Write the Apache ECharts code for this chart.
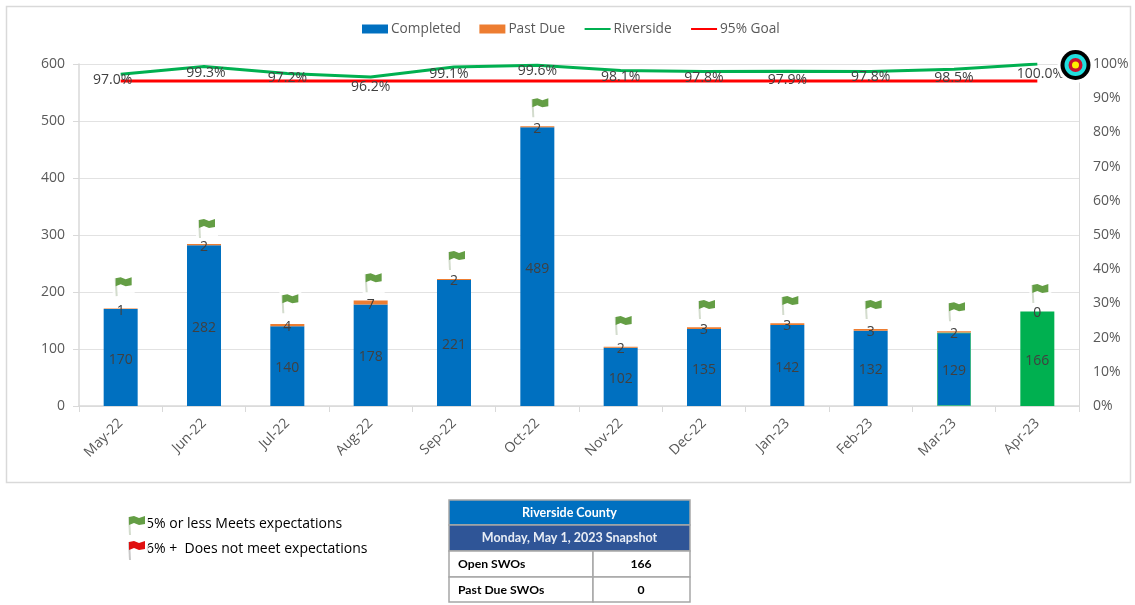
<!DOCTYPE html>
<html><head><meta charset="utf-8">
<style>html,body{margin:0;padding:0;background:#fff}#c{width:1135px;height:605px}</style>
<script src="https://cdn.jsdelivr.net/npm/echarts@6/dist/echarts.min.js"></script>
</head><body><div id="c"></div>
<script>
const categories = ['May-22','Jun-22','Jul-22','Aug-22','Sep-22','Oct-22','Nov-22','Dec-22','Jan-23','Feb-23','Mar-23','Apr-23'];
const completed = [170,282,140,178,221,489,102,135,142,132,129,166];
const pastDue = [1,2,4,7,2,2,2,3,3,3,2,0];
const riverside = [0.970,0.993,0.972,0.962,0.991,0.996,0.981,0.978,0.979,0.978,0.985,1.000];
const goal = [0.95,0.95,0.95,0.95,0.95,0.95,0.95,0.95,0.95,0.95,0.95,0.95];
const flagLevels = [226,328,196,233,272,540,158,186,193,186,182,214];
const rateLabelDx = [-8,2,0,0,-5,0,0,0,0,0,0,3];
const rateLabelDy = [-1,0,-3,3,0,-1,-0.5,-0.5,2,-2,2,3];
const leftTicks = {min:0,max:600,interval:100};
const rightTicks = {min:0,max:1,interval:0.1};

const FONT = '"Open Sans"';
const TXT = '#595959', LBL = '#404040', GRID = '#e2e2e2', AX = '#d9d9d9';
const FLAG_GREEN = '#649e45', FLAG_RED = '#e00f0f', POLE = '#d3dccd';

function flagShapes(x, y, color, pole){
  return [
    {type:'rect', shape:{x:x-3,y:y-3,width:22,height:25}, style:{fill:'rgba(255,255,255,0.85)'}},
    {type:'line', shape:{x1:x,y1:y+1,x2:x+1,y2:y+19}, style:{stroke:pole,lineWidth:2}},
    {type:'polygon', shape:{points:[[x,y+1],[x+5,y],[x+10,y+2],[x+16,y],[x+16,y+8],[x+10,y+9],[x+5,y+7],[x,y+9]]}, style:{fill:color}}
  ];
}
const chart = echarts.init(document.getElementById('c'), null, {renderer:'canvas'});
const T = (x,y,text,o={}) => ({type:'text',x,y,z:20,style:Object.assign({text,fill:'#000',font:'14px '+FONT,verticalAlign:'middle'},o)});
const tblFont = 'bold 12.5px Lato', bodyFont = 'bold 12.2px Lato';
const R = (x,y,w,h,fill) => ({type:'rect',z:15,shape:{x,y,width:w,height:h},style:{fill,stroke:'#a6a6a6',lineWidth:1.5}});
const hideDot = {color:'transparent',borderWidth:0};
chart.setOption({
  animation:false,
  backgroundColor:'#fff',
  textStyle:{fontFamily:FONT},
  legend:{top:22,left:362,padding:0,itemWidth:26,itemHeight:9,itemGap:18.4,
    data:[
      {name:'Completed',icon:'rect',itemStyle:{borderWidth:0}},
      {name:'Past Due',icon:'rect',itemStyle:{borderWidth:0}},
      {name:'Riverside',itemStyle:hideDot},
      {name:'95% Goal',itemStyle:hideDot}
    ],
    textStyle:{color:TXT,fontSize:13.7,fontFamily:FONT,padding:[1,0,0,-2]}},
  grid:{left:79,right:56,top:64,bottom:199},
  xAxis:{type:'category',data:categories,
    axisLine:{lineStyle:{color:AX,width:1.5}},axisTick:{show:true,alignWithLabel:false,length:6,lineStyle:{color:AX}},
    axisLabel:{rotate:45,color:TXT,fontSize:14,margin:15,fontFamily:FONT,interval:0}},
  yAxis:[
    Object.assign({type:'value',position:'left',
      axisLine:{show:true,lineStyle:{color:AX,width:1.5}},axisTick:{show:true,length:6,lineStyle:{color:AX}},
      axisLabel:{color:TXT,fontSize:14,margin:14,fontFamily:FONT,padding:[4,0,0,0]},
      splitLine:{lineStyle:{color:GRID,width:1}}},leftTicks),
    Object.assign({type:'value',position:'right',
      axisLine:{show:true,lineStyle:{color:AX,width:1}},axisTick:{show:false},
      axisLabel:{color:TXT,fontSize:14,margin:14,fontFamily:FONT,padding:[4,0,0,0],formatter:v=>Math.round(v*100)+'%'},
      splitLine:{show:false}},rightTicks)
  ],
  series:[
    {name:'Completed',type:'bar',stack:'t',barWidth:34,
      data:completed.map((v,i)=> i===completed.length-1 ? {value:v,itemStyle:{color:'#00b050'}}
        : i===completed.length-2 ? {value:v,itemStyle:{borderColor:'#3fb58a',borderWidth:1}} : v),
      itemStyle:{color:'#0070c0'},
      label:{show:true,position:'inside',offset:[0,2],color:LBL,fontSize:14,fontFamily:FONT}},
    {name:'Past Due',type:'bar',stack:'t',barWidth:34,data:pastDue,
      itemStyle:{color:'#ed7d31'},
      label:{show:true,position:'inside',offset:[0,2],color:LBL,fontSize:14,fontFamily:FONT}},
    {name:'Riverside',type:'line',yAxisIndex:1,symbol:'circle',symbolSize:0,showSymbol:true,z:5,
      lineStyle:{color:'#00b050',width:3},itemStyle:{color:'#00b050'},
      data:riverside.map((v,i)=>({value:v,label:{show:true,position:'bottom',distance:0,color:LBL,fontSize:14,fontFamily:FONT,
        offset:[rateLabelDx[i],rateLabelDy[i]],formatter:(v*100).toFixed(1)+'%'}}))},
    {name:'95% Goal',type:'line',yAxisIndex:1,symbol:'none',z:4,
      lineStyle:{color:'#ff0000',width:3},itemStyle:{color:'#ff0000'},data:goal},
    {name:'Flags',type:'custom',yAxisIndex:0,z:1,silent:true,
      data:flagLevels.map((v,i)=>[i,v]),
      encode:{x:0,y:1},
      renderItem:(params,api)=>{
        const p = api.coord([api.value(0),api.value(1)]);
        return {type:'group',children:flagShapes(p[0]-5,p[1],FLAG_GREEN,POLE)};
      }}
  ],
  graphic:[
    {type:'rect',z:-1,silent:true,shape:{x:6.5,y:6.5,width:1124,height:476},style:{fill:'none',stroke:'#d9d9d9',lineWidth:1.5}},
    {type:'circle',z:10,shape:{cx:1075.5,cy:65,r:18},style:{fill:'#fff'}},
    {type:'circle',z:11,shape:{cx:1075.5,cy:65,r:15},style:{fill:'#000'}},
    {type:'circle',z:12,shape:{cx:1075.5,cy:65,r:11},style:{fill:'#22dede'}},
    {type:'circle',z:13,shape:{cx:1075.5,cy:65,r:7},style:{fill:'#c8102e'}},
    {type:'circle',z:14,shape:{cx:1075.5,cy:65,r:3.5},style:{fill:'#ffee00'}},
    T(146,524,'5% or less Meets expectations'),
    T(146,549,'6% +  Does not meet expectations'),
    {type:'group',children:flagShapes(129,516,FLAG_GREEN,POLE).map(s=>Object.assign(s,{z:21}))},
    {type:'group',children:flagShapes(129,541,FLAG_RED,'#c8c8c8').map(s=>Object.assign(s,{z:21}))},
    R(449,500,241,25,'#0070c0'),
    R(449,525,241,26,'#2f5597'),
    R(449,551,144,26,'#fff'),
    R(593,551,97,26,'#fff'),
    R(449,577,144,25,'#fff'),
    R(593,577,97,25,'#fff'),
    T(569.5,513,'Riverside County',{font:tblFont,fill:'#fff',align:'center'}),
    T(569.5,538,'Monday, May 1, 2023 Snapshot',{font:tblFont,fill:'#e8edf5',align:'center'}),
    T(458,564,'Open SWOs',{font:bodyFont}),
    T(641,564,'166',{font:bodyFont,align:'center'}),
    T(458,590,'Past Due SWOs',{font:bodyFont}),
    T(641,590,'0',{font:bodyFont,align:'center'})
  ]
});
</script></body></html>
